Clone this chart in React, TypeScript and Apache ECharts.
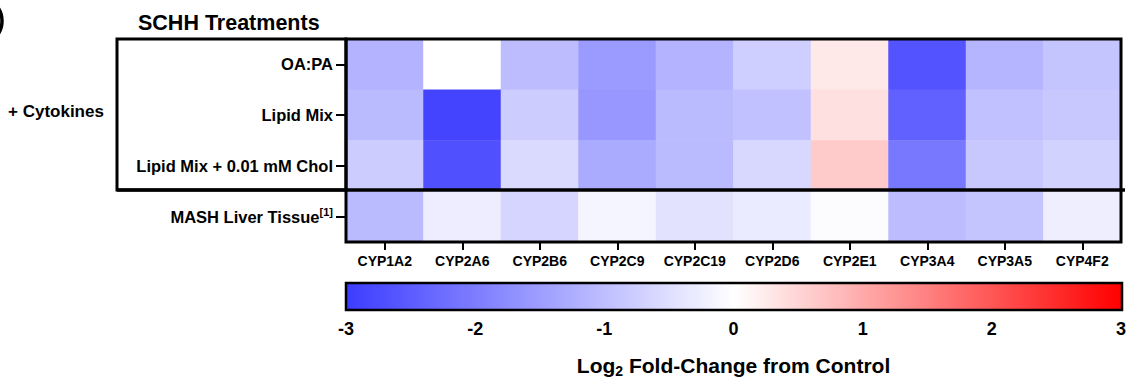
import React, { useEffect, useRef } from "react";
import * as echarts from "echarts";

const genes = ["CYP1A2", "CYP2A6", "CYP2B6", "CYP2C9", "CYP2C19", "CYP2D6", "CYP2E1", "CYP3A4", "CYP3A5", "CYP4F2"];
const rowLabels = ["OA:PA", "Lipid Mix", "Lipid Mix + 0.01 mM Chol", "MASH Liver Tissue"];
const oaPa = [-1.17, 0, -1.03, -1.54, -1.17, -0.75, 0.27, -2.65, -1.14, -0.91];
const lipidMix = [-1.06, -2.88, -0.78, -1.6, -1.06, -0.95, 0.36, -2.43, -0.95, -0.85];
const lipidMixChol = [-0.78, -2.69, -0.57, -1.31, -1.06, -0.6, 0.62, -2.08, -0.85, -0.69];
const mashTissue = [-1.06, -0.28, -0.65, -0.15, -0.45, -0.31, -0.05, -1.03, -0.91, -0.26];
const scaleMin = -3;
const scaleMax = 3;
const scaleStep = 1;

const FONT = "'Liberation Sans', Arial, sans-serif";

export default function App() {
  const ref = useRef<HTMLDivElement>(null);
  useEffect(() => {
    document.body.style.margin = "0";
    const chart = echarts.init(ref.current!, null, { renderer: "svg" });
    const rows = [oaPa, lipidMix, lipidMixChol, mashTissue];
    const data: number[][] = [];
    rows.forEach((r, yi) => r.forEach((v, xi) => data.push([xi, yi, v])));

    const gL = 346, gT = 39, gW = 775, gH = 203;
    const cbL = 346, cbT = 283, cbW = 776, cbH = 27;

    chart.setOption({
      animation: false,
      textStyle: { fontFamily: FONT },
      grid: [
        { left: gL, top: gT, width: gW, height: gH, containLabel: false },
        { left: cbL, top: cbT, width: cbW, height: cbH, containLabel: false },
      ],
      xAxis: [
        {
          type: "category",
          gridIndex: 0,
          data: genes,
          axisLine: { show: false },
          axisTick: { show: true, alignWithLabel: true, interval: 0, length: 8, lineStyle: { color: "#000", width: 2 } },
          axisLabel: { interval: 0, hideOverlap: false, color: "#000", fontWeight: "bold", fontSize: 14, fontFamily: FONT, margin: 12 },
          splitLine: { show: false },
        },
        {
          type: "value",
          gridIndex: 1,
          min: scaleMin,
          max: scaleMax,
          interval: scaleStep,
          position: "bottom",
          axisLine: { show: false },
          axisTick: { show: true, inside: true, length: 5, lineStyle: { color: "#000", width: 2 } },
          axisLabel: { color: "#000", fontWeight: "bold", fontSize: 18, fontFamily: FONT, margin: 12 },
          splitLine: { show: false },
          name: "{a|Log}{s|2}{a| Fold-Change from Control}",
          nameLocation: "middle",
          nameGap: 45,
          nameTextStyle: {
            rich: {
              a: { fontSize: 21, fontWeight: "bold", color: "#000", fontFamily: FONT, lineHeight: 25 },
              s: { fontSize: 14, fontWeight: "bold", color: "#000", fontFamily: FONT, lineHeight: 14, verticalAlign: "bottom" },
            },
          },
        },
        {
          type: "value",
          gridIndex: 1,
          min: scaleMin,
          max: scaleMax,
          interval: scaleStep,
          position: "top",
          axisLine: { show: false },
          axisTick: { show: true, inside: true, length: 5, lineStyle: { color: "#000", width: 2 } },
          axisLabel: { show: false },
          splitLine: { show: false },
        },
      ],
      yAxis: [
        {
          type: "category",
          gridIndex: 0,
          data: rowLabels,
          inverse: true,
          axisLine: { show: false },
          axisTick: { show: true, alignWithLabel: true, length: 10, lineStyle: { color: "#000", width: 2 } },
          axisLabel: {
            color: "#000",
            fontWeight: "bold",
            fontSize: 16.5,
            fontFamily: FONT,
            margin: 13,
            lineHeight: 21,
            formatter: (v: string) => (v === "MASH Liver Tissue" ? v + "{sup|[1]}" : v),
            rich: {
              sup: { fontSize: 11, fontWeight: "bold", color: "#000", fontFamily: FONT, lineHeight: 11, verticalAlign: "top" },
            },
          },
          splitLine: { show: false },
        },
        { type: "value", gridIndex: 1, show: false, min: 0, max: 1 },
      ],
      visualMap: {
        type: "continuous",
        seriesIndex: 0,
        min: scaleMin,
        max: scaleMax,
        orient: "horizontal",
        left: cbL,
        top: cbT,
        itemWidth: cbH,
        itemHeight: cbW,
        padding: 0,
        calculable: false,
        showLabel: false,
        text: ["", ""],
        hoverLink: false,
        inRange: { color: ["#3c3cff", "#ffffff", "#ff0000"] },
      },
      series: [
        {
          type: "heatmap",
          xAxisIndex: 0,
          yAxisIndex: 0,
          data,
          itemStyle: { borderWidth: 0 },
          emphasis: { disabled: true },
          label: { show: false },
        },
      ],
      graphic: [
        {
          type: "rect",
          z: 100,
          shape: { x: gL, y: gT, width: gW, height: gH },
          style: { fill: "none", stroke: "#000", lineWidth: 3 },
        },
        {
          type: "rect",
          z: 100,
          shape: { x: 117, y: gT, width: gL - 117, height: 151 },
          style: { fill: "none", stroke: "#000", lineWidth: 3 },
        },
        {
          type: "line",
          z: 101,
          shape: { x1: 117, y1: 190, x2: 1125, y2: 190 },
          style: { stroke: "#000", lineWidth: 3.5 },
        },
        {
          type: "rect",
          z: 100,
          shape: { x: cbL, y: cbT, width: cbW, height: cbH },
          style: { fill: "none", stroke: "#000", lineWidth: 2.5 },
        },
        {
          type: "text",
          z: 100,
          x: 138,
          y: 23,
          style: { text: "SCHH Treatments", font: `bold 21.5px ${FONT}`, fill: "#000", verticalAlign: "middle", align: "left" },
        },
        {
          type: "text",
          z: 100,
          x: 8,
          y: 111,
          style: { text: "+ Cytokines", font: `bold 17px ${FONT}`, fill: "#000", verticalAlign: "middle", align: "left" },
        },
        {
          type: "arc",
          z: 100,
          shape: { cx: -22, cy: 21, r: 24, startAngle: -0.75, endAngle: 0.75, clockwise: true },
          style: { stroke: "#000", lineWidth: 3.5, fill: "none" },
        },
      ],
    });
    return () => chart.dispose();
  }, []);
  return <div ref={ref} style={{ width: 1129, height: 379 }} />;
}
